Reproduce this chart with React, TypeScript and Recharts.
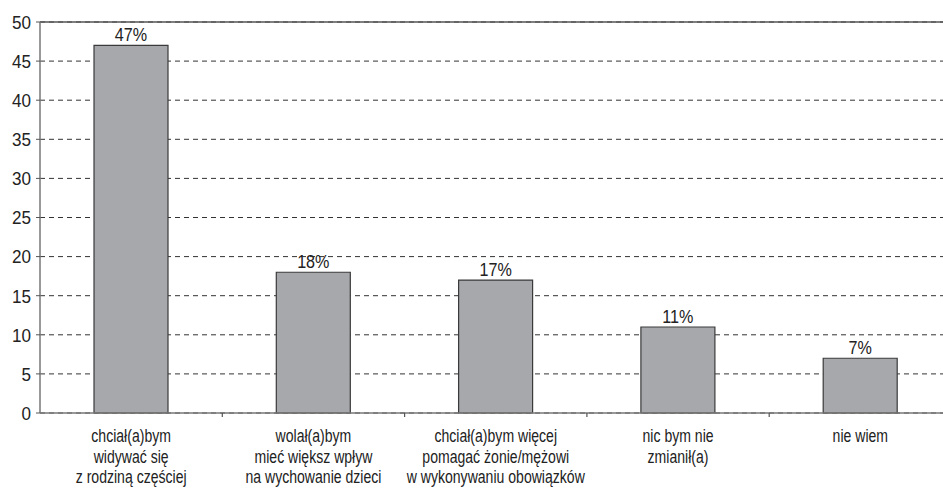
import { BarChart, Bar, XAxis, YAxis, CartesianGrid, ReferenceLine, LabelList } from 'recharts'

const categoryLines = [
  ['chciał(a)bym', 'widywać się', 'z rodziną częściej'],
  ['wolał(a)bym', 'mieć większ wpływ', 'na wychowanie dzieci'],
  ['chciał(a)bym więcej', 'pomagać żonie/mężowi', 'w wykonywaniu obowiązków'],
  ['nic bym nie', 'zmianił(a)'],
  ['nie wiem'],
]
const categories = ['c1', 'c2', 'c3', 'c4', 'c5']
const values = [47, 18, 17, 11, 7]
const yTicks = [0, 5, 10, 15, 20, 25, 30, 35, 40, 45, 50]

const FONT = '"Liberation Sans", Arial, sans-serif'
const W = 960
const H = 492
const M = { top: 22, right: 8.5, left: 0, bottom: 0 }
const Y_W = 40
const X_H = 79
const PLOT_W = W - M.left - M.right - Y_W
const BAND = PLOT_W / categories.length

const data = categories.map((c, i) => ({ key: c, value: values[i] }))

// condensed look: squeeze a regular sans horizontally
function NarrowText({ x, y, sx, size, anchor = 'middle', dy, children }: any) {
  return (
    <text
      transform={`translate(${x},${y}) scale(${sx},1)`}
      textAnchor={anchor}
      dy={dy}
      fill="#222"
      fontSize={size}
      fontFamily={FONT}
    >
      {children}
    </text>
  )
}

function CategoryTick(props: any) {
  const { x, index } = props
  const lines = categoryLines[index] ?? []
  const axisY = H - X_H
  return (
    <g>
      {index > 0 && (
        <line x1={x - BAND / 2} x2={x - BAND / 2} y1={axisY} y2={axisY + 4} stroke="#555" strokeWidth={1.2} />
      )}
      {lines.map((l, i) => (
        <NarrowText key={i} x={x} y={axisY + 29 + i * 20.5} sx={0.76} size={18.5}>{l}</NarrowText>
      ))}
    </g>
  )
}

function ValueTick(props: any) {
  const { x, y, payload } = props
  return (
    <NarrowText x={x} y={y} sx={0.9} size={19} anchor="end" dy="0.36em">{payload.value}</NarrowText>
  )
}

function PercentLabel(props: any) {
  const { x, y, width, value } = props
  return (
    <NarrowText x={x + width / 2} y={y - 4} sx={0.85} size={19}>{`${value}%`}</NarrowText>
  )
}

export default function App() {
  return (
    <div style={{ position: 'absolute', left: 0, top: 0, background: '#fff' }}>
      <BarChart width={W} height={H} data={data} margin={M}>
        <CartesianGrid vertical={false} stroke="#333" strokeDasharray="5 4" strokeWidth={1} />
        <ReferenceLine y={50} stroke="#555" strokeWidth={1.5} />
        <XAxis
          dataKey="key"
          interval={0}
          height={X_H}
          tickLine={false}
          axisLine={{ stroke: '#777', strokeWidth: 1.5 }}
          tick={<CategoryTick />}
        />
        <YAxis
          width={Y_W}
          domain={[0, 50]}
          ticks={yTicks}
          interval={0}
          tickSize={4}
          tickMargin={5}
          axisLine={{ stroke: '#777', strokeWidth: 1.5 }}
          tickLine={{ stroke: '#555' }}
          tick={<ValueTick />}
        />
        <Bar dataKey="value" barSize={74} fill="#a7a8ac" stroke="#3a3a3a" strokeWidth={1.2} isAnimationActive={false}>
          <LabelList dataKey="value" content={<PercentLabel />} />
        </Bar>
      </BarChart>
    </div>
  )
}
